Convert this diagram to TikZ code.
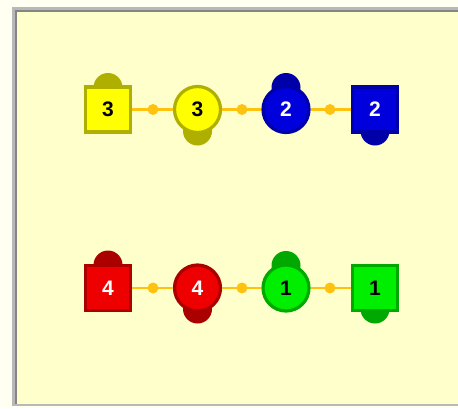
\documentclass[tikz,border=0pt]{standalone}
\usepackage{fontspec}
\setmainfont{Liberation Sans}
\definecolor{outerbg}{HTML}{FFFFF2}
\definecolor{panelbg}{HTML}{FFFFCC}
\definecolor{framelight}{HTML}{B8B8B8}
\definecolor{framedark}{HTML}{858585}
\definecolor{linkcol}{HTML}{FFC20E}
\definecolor{yfill}{HTML}{FFFF00}
\definecolor{ydark}{HTML}{AFAF00}
\definecolor{bfill}{HTML}{0000DD}
\definecolor{bdark}{HTML}{0000A8}
\definecolor{rfill}{HTML}{EE0000}
\definecolor{rdark}{HTML}{AA0000}
\definecolor{gfill}{HTML}{00EE00}
\definecolor{gdark}{HTML}{00A800}
\tikzset{
  lbl/.style={font=\fontsize{21}{21}\selectfont\bfseries},
  sqbox/.style={lbl, rectangle, minimum size=45pt, inner sep=0pt, line width=3.2pt},
  rdbox/.style={lbl, circle, minimum size=46pt, inner sep=0pt, line width=3.2pt},
  bump/.style={circle, minimum size=29pt, inner sep=0pt},
  dotnode/.style={circle, fill=linkcol, minimum size=11pt, inner sep=0pt},
  link/.style={draw=linkcol, line width=2.3pt},
}
\begin{document}
\begin{tikzpicture}[x=1pt,y=-1pt]
\useasboundingbox (0,0) rectangle (458,408);
\fill[outerbg] (0,0) rectangle (458,408);
\fill[framelight] (12,7) rectangle (458,406);
\fill[framedark] (15,10) rectangle (458,404);
\fill[panelbg] (17,12) rectangle (458,404);
% row 1 bumps
\node[bump, fill=ydark] (b3a) at (108,87.5) {};
\node[bump, fill=ydark] (b3b) at (197.5,131) {};
\node[bump, fill=bdark] (b2a) at (286,87.5) {};
\node[bump, fill=bdark] (b2b) at (375,131) {};
% row 1 shapes
\node[sqbox, fill=yfill, draw=ydark] (s3) at (108,109.5) {3};
\node[rdbox, fill=yfill, draw=ydark] (c3) at (197.5,109.5) {3};
\node[rdbox, fill=bfill, draw=bdark, text=white] (c2) at (286,109.5) {2};
\node[sqbox, fill=bfill, draw=bdark, text=white] (s2) at (375,109.5) {2};
% row 2 bumps
\node[bump, fill=rdark] (b4a) at (108,265) {};
\node[bump, fill=rdark] (b4b) at (197.5,309) {};
\node[bump, fill=gdark] (b1a) at (286,265.5) {};
\node[bump, fill=gdark] (b1b) at (375,309) {};
% row 2 shapes
\node[sqbox, fill=rfill, draw=rdark, text=white] (s4) at (108,288) {4};
\node[rdbox, fill=rfill, draw=rdark, text=white] (c4) at (197.5,288) {4};
\node[rdbox, fill=gfill, draw=gdark] (c1) at (286,288) {1};
\node[sqbox, fill=gfill, draw=gdark] (s1) at (375,288) {1};
% links
\draw[link] (s3) -- (c3);
\draw[link] (c3) -- (c2);
\draw[link] (c2) -- (s2);
\draw[link] (s4) -- (c4);
\draw[link] (c4) -- (c1);
\draw[link] (c1) -- (s1);
\node[dotnode] (d1) at (153,109.5) {};
\node[dotnode] (d2) at (242,109.5) {};
\node[dotnode] (d3) at (330,109.5) {};
\node[dotnode] (d4) at (153,288) {};
\node[dotnode] (d5) at (242,288) {};
\node[dotnode] (d6) at (330,288) {};
\end{tikzpicture}
\end{document}
